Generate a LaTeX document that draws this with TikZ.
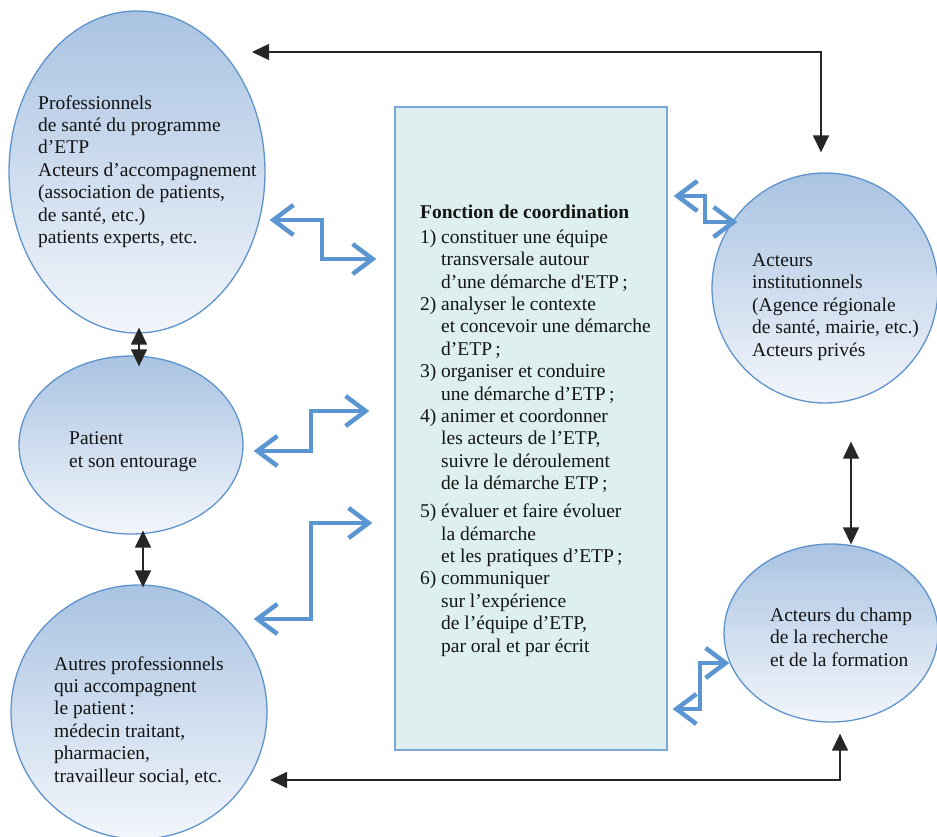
\documentclass[tikz,border=0pt]{standalone}
\usepackage{fontspec}
\setmainfont{Liberation Serif}
\usetikzlibrary{arrows.meta,shapes.geometric,calc}
\definecolor{ellfill}{HTML}{A9C3E2}
\definecolor{ellbot}{HTML}{F3F6FB}
\definecolor{ellline}{HTML}{5F93CC}
\definecolor{boxfill}{HTML}{DDEFEF}
\definecolor{boxline}{HTML}{7BA7D6}
\definecolor{blu}{HTML}{5B96D2}
\definecolor{blk}{HTML}{262626}
\begin{document}
\begin{tikzpicture}[x=1pt,y=-1pt,
  ell/.style={ellipse, draw=ellline, line width=1.3pt, top color=ellfill, bottom color=ellbot, inner sep=0pt},
  txt/.style={anchor=base west, align=left, font=\fontsize{19.5}{22.4}\selectfont, inner sep=0pt, text=black!92},
  barrow/.style={draw=blu, line width=4.5pt, {Straight Barb[length=20pt,width=30pt]}-{Straight Barb[length=20pt,width=30pt]}},
  blkarrow/.style={draw=blk, line width=1.4pt, {Triangle[length=17pt,width=16pt]}-{Triangle[length=17pt,width=16pt]}}
]
\useasboundingbox (0,0) rectangle (937,837);
% ellipses
\node[ell, minimum width=256pt, minimum height=322pt] (e1) at (137,172) {};
\node[ell, minimum width=224pt, minimum height=178pt] (e2) at (131,445) {};
\node[ell, minimum width=256pt, minimum height=254pt] (e3) at (139,712) {};
\node[ell, minimum width=226pt, minimum height=230pt] (e4) at (825,288) {};
\node[ell, minimum width=214pt, minimum height=178pt] (e5) at (831,633) {};
% central box
\node[draw=boxline, fill=boxfill, line width=1.3pt, minimum width=272pt, minimum height=643pt, inner sep=0pt] (box) at (531,428.5) {};
% texts (anchor = baseline of last line)
\node[txt] (t1) at (38,243.5) {Professionnels\\de santé du programme\\d’ETP\\Acteurs d’accompagnement\\(association de patients,\\de santé, etc.)\\patients experts, etc.};
\node[txt] (t2) at (69,467) {Patient\\et son entourage};
\node[txt] (t3) at (54,782) {Autres professionnels\\qui accompagnent\\le patient\,:\\médecin traitant,\\pharmacien,\\travailleur social, etc.};
\node[txt] (t4) at (752,356) {Acteurs\\institutionnels\\(Agence régionale\\de santé, mairie, etc.)\\Acteurs privés};
\node[txt] (t5) at (770,666) {Acteurs du champ\\de la recherche\\et de la formation};
\node[txt] (tb) at (420,652) {\textbf{Fonction de coordination}\\[2.6pt]
\makebox[21pt][l]{1)}constituer une équipe\\
\hspace*{21pt}transversale autour\\
\hspace*{21pt}d’une démarche d\textquotesingle ETP\,;\\
\makebox[21pt][l]{2)}analyser le contexte\\
\hspace*{21pt}et concevoir une démarche\\
\hspace*{21pt}d’ETP\,;\\
\makebox[21pt][l]{3)}organiser et conduire\\
\hspace*{21pt}une démarche d’ETP\,;\\
\makebox[21pt][l]{4)}animer et coordonner\\
\hspace*{21pt}les acteurs de l’ETP,\\
\hspace*{21pt}suivre le déroulement\\
\hspace*{21pt}de la démarche ETP\,;\\[5.5pt]
\makebox[21pt][l]{5)}évaluer et faire évoluer\\
\hspace*{21pt}la démarche\\
\hspace*{21pt}et les pratiques d’ETP\,;\\
\makebox[21pt][l]{6)}communiquer\\
\hspace*{21pt}sur l’expérience\\
\hspace*{21pt}de l’équipe d’ETP,\\
\hspace*{21pt}par oral et par écrit};
% connector end points
\coordinate (c1) at (252,52);
\coordinate (c2) at (270,780);
\coordinate (c1e) at ($(e4.north)+(-4,-20)$);
\coordinate (c2e) at ($(e5.south)+(9,11)$);
% black connectors
\draw[blkarrow] (c1) -| (c1e);
\draw[blkarrow] (c2) -| (c2e);
\draw[blkarrow] ($(e1.south)+(2,-6)$) -- ($(e2.north)+(8,11)$);
\draw[blkarrow] ($(e2.south)+(12,-4)$) -- ($(e3.north)+(4,3)$);
\draw[blkarrow] ($(e4.south)+(26,38)$) -- ($(e5.north)+(20,1)$);
% blue connectors
\draw[barrow] ($(e1.east)+(4,48)$) -- (322,220) |- ($(box.west)+(-18,-169.5)$);
\draw[barrow] ($(e2.east)+(10,6)$) -- (311,451) |- ($(box.west)+(-25,-17.5)$);
\draw[barrow] ($(e3.east)+(-14,-93)$) -- (311,619) |- ($(box.west)+(-22,94.5)$);
\draw[barrow] ($(box.east)+(6,-232.5)$) -- (705,196) |- ($(e4.west)+(26,-66)$);
\draw[barrow] ($(e5.west)+(6,30)$) -- (700,663) |- ($(box.east)+(5,280.5)$);
\end{tikzpicture}
\end{document}
